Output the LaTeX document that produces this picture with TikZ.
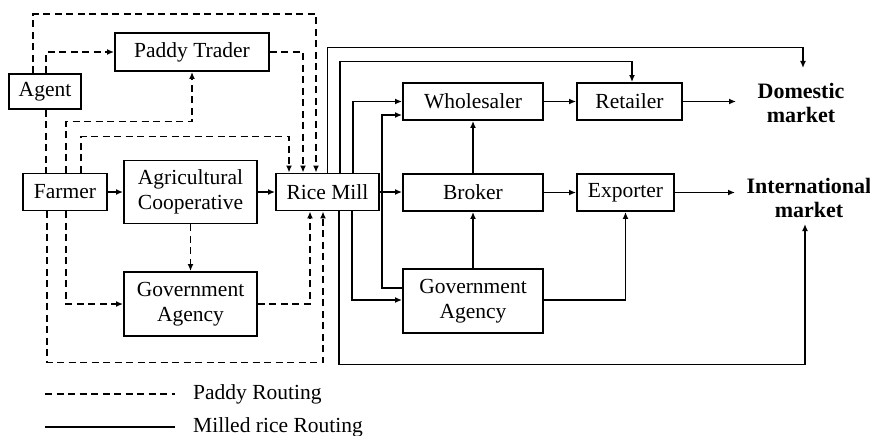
\documentclass[tikz,border=0pt]{standalone}
\usepackage{fontspec}
\setmainfont{Liberation Serif}
\usetikzlibrary{arrows.meta}
\begin{document}
\begin{tikzpicture}[x=1pt,y=-1pt,
  box/.style={draw,line width=1.9pt,inner sep=0pt,align=center,font=\fontsize{21.5}{25}\selectfont},
  conn/.style={line width=1.8pt,-{Latex[length=7pt,width=6pt]}},
  plain/.style={line width=1.8pt},
  dsh/.style={line width=1.8pt,dash pattern=on 7pt off 4.5pt},
  darr/.style={dsh,-{Latex[length=7pt,width=6pt]}},
  mkt/.style={align=center,font=\fontsize{22}{24}\selectfont\bfseries,inner sep=0pt}]
\useasboundingbox (0,0) rectangle (870,436);
% nodes
\node[box,minimum width=154pt,minimum height=38pt] (trader) at (192,52) {Paddy Trader};
\node[box,minimum width=72pt,minimum height=35pt] (agent) at (45,91.5) {Agent};
\node[box,minimum width=84pt,minimum height=37pt] (farmer) at (65,192) {Farmer};
\node[box,minimum width=133pt,minimum height=63pt] (coop) at (190.5,192) {Agricultural\\Cooperative};
\node[box,minimum width=103pt,minimum height=37pt] (mill) at (327.5,192) {Rice Mill};
\node[box,minimum width=133pt,minimum height=64pt] (gov1) at (190.5,304) {Government\\Agency};
\node[box,minimum width=140pt,minimum height=37pt] (whole) at (473,101.5) {Wholesaler};
\node[box,minimum width=105pt,minimum height=37pt] (retail) at (629.5,101.5) {Retailer};
\node[box,minimum width=140pt,minimum height=37pt] (broker) at (473,192.5) {Broker};
\node[box,minimum width=97pt,minimum height=37pt] (export) at (625.5,192.5) {Exporter};
\node[box,minimum width=140pt,minimum height=64pt] (gov2) at (473,301) {Government\\Agency};
\node[mkt] (dom) at (801,103) {Domestic\\market};
\node[mkt] (intl) at (809,198) {International\\market};
\coordinate (domtip) at (803,68);
\coordinate (intltip) at (805,224);
\coordinate (retend) at (736,101.5);
\coordinate (expend) at (735,192.5);
% dashed (paddy)
\draw[darr] ([xshift=-12pt]agent.north) -- ++(0,-59) -| ([xshift=-11.5pt]mill.north);
\draw[darr] ([xshift=1pt]agent.north) |- (trader.west);
\draw[darr] (trader.east) -| ([xshift=-24.5pt]mill.north);
\draw[dsh] ([xshift=1pt]agent.south) -- ([xshift=1pt]agent.south |- farmer.north);
\draw[darr] ([xshift=1pt]farmer.north) -- ++(0,-51) -| (trader.south);
\draw[darr] ([xshift=16pt]farmer.north) -- ++(0,-36) -| ([xshift=-38.5pt]mill.north);
\draw[darr] ([xshift=1pt]farmer.south) |- (gov1.west);
\draw[darr] ([xshift=-18pt]farmer.south) -- ++(0,151) -| ([xshift=-4.5pt]mill.south);
\draw[darr] (coop.south) -- (gov1.north);
\draw[darr] (gov1.east) -| ([xshift=-17.5pt]mill.south);
% solid (milled rice)
\draw[conn] (farmer.east) -- (coop.west);
\draw[conn] (coop.east) -- (mill.west);
\draw[conn] (mill.east) -- (mill.east -| broker.west);
\draw[conn] (mill.north) -- ++(0,-125) -| (domtip);
\draw[conn] ([xshift=12.5pt]mill.north) -- ++(0,-111) -| ([xshift=2.5pt]retail.north);
\draw[conn] ([xshift=25.5pt]mill.north) |- (whole.west);
\draw[conn] ([yshift=13pt]gov2.west) -- ++(-20,0) |- ([yshift=-13.5pt]whole.west);
\draw[conn] ([xshift=24.5pt]mill.south) |- ([yshift=1pt]gov2.west);
\draw[conn] ([xshift=11.5pt]mill.south) -- ++(0,153) -| (intltip);
\draw[conn] (broker.north) -- (whole.south);
\draw[conn] (whole.east) -- (retail.west);
\draw[conn] (retail.east) -- (retend);
\draw[conn] (broker.east) -- (export.west);
\draw[conn] (export.east) -- (expend);
\draw[conn] (gov2.north) -- (broker.south);
\draw[conn] ([yshift=1pt]gov2.east) -| (export.south);
% legend
\coordinate (l1a) at (45,394); \coordinate (l1b) at (175,394);
\coordinate (l2a) at (45,427); \coordinate (l2b) at (175,427);
\draw[dsh] (l1a) -- (l1b);
\draw[plain] (l2a) -- (l2b);
\node[anchor=west,inner sep=0pt,font=\fontsize{21.5}{25}\selectfont] (lg1) at (193,394) {Paddy Routing};
\node[anchor=west,inner sep=0pt,font=\fontsize{21.5}{25}\selectfont] (lg2) at (193,427) {Milled rice Routing};
\end{tikzpicture}
\end{document}
